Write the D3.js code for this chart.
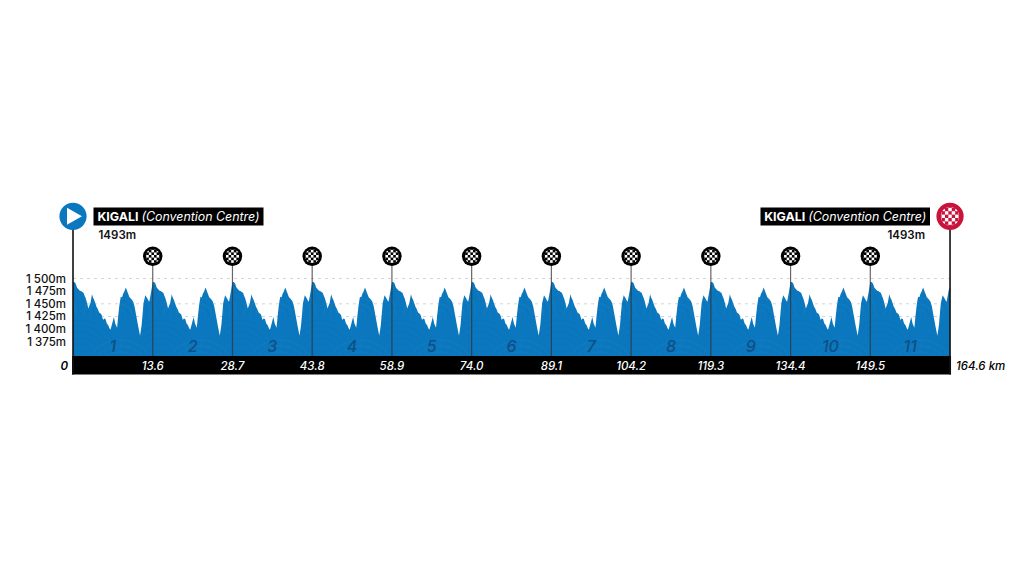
<!DOCTYPE html>
<html><head><meta charset="utf-8">
<script src="https://cdn.jsdelivr.net/npm/d3@7/dist/d3.min.js"></script>
<style>html,body{margin:0;background:#fff}svg{display:block}text{font-family:Inter,"Open Sans",sans-serif}</style>
</head><body><svg id="c" width="1024" height="576"></svg>
<script>
const kmMarks=[0,13.6,28.7,43.8,58.9,74.0,89.1,104.2,119.3,134.4,149.5,164.6];
const kmLabels=["0","13.6","28.7","43.8","58.9","74.0","89.1","104.2","119.3","134.4","149.5","164.6 km"];
const lapNumbers=[1,2,3,4,5,6,7,8,9,10,11];
const elevationTicks=[1500,1475,1450,1425,1400,1375];
const elevationTickLabels=["1 500m","1 475m","1 450m","1 425m","1 400m","1 375m"];
const dashedLevels=[1500,1450,1425];
const lapDistance=[0,.25,.5,.75,.95,1.3,1.6,1.8,2.0,2.2,2.4,2.65,2.9,3.1,3.3,3.6,3.8,4.0,4.2,4.45,4.7,4.95,5.2,5.4,5.7,5.9,6.15,6.4,6.65,6.9,7.1,7.4,7.75,8.0,8.35,8.55,8.75,8.9,9.05,9.3,9.5,9.75,10.0,10.2,10.45,10.7,10.9,11.15,11.4,11.65,11.9,12.35,12.7,13.0,13.35,13.55,13.7,14.05,14.3,14.45,14.85,15.1];
const lapElevation=[1493,1493,1490,1482,1480,1476,1475,1473,1472,1466,1461,1452,1441,1446,1451,1469,1462,1458,1452,1444,1440,1433,1431,1429,1418,1421,1420,1411,1408,1402,1399,1410,1424,1411,1403,1425,1444,1455,1464,1463,1470,1475,1482,1477,1470,1463,1461,1458,1454,1445,1431,1405,1387,1408,1451,1460,1467,1461,1456,1454,1477,1493];
const finishProfileElevation=1483;
const startFinishName=["KIGALI","(Convention Centre)"];
const startFinishAltitude="1493m";

const svg=d3.select("#c");
const x=d3.scaleLinear().domain(kmMarks).range(kmMarks.map((_,i)=>73+i*79.73));
const y=d3.scaleLinear().domain([1347,1500]).range([356,278.5]);
const profile=[];
lapNumbers.forEach((_,i)=>{
  const a=kmMarks[i],b=kmMarks[i+1];
  lapDistance.forEach((d,j)=>{
    if(i>0&&j===0)return;
    profile.push({km:a+d/15.1*(b-a),e:lapElevation[j]});
  });
});
profile[profile.length-1].e=finishProfileElevation;

const defs=svg.append("defs");
const pat=defs.append("pattern").attr("id","waves").attr("patternUnits","userSpaceOnUse").attr("width",80).attr("height",60).attr("y",316);
[6,12,18,24,30,36].forEach(r=>{
  pat.append("circle").attr("cx",40).attr("cy",60).attr("r",r).attr("fill","none").attr("stroke","#fff").attr("stroke-opacity",.035);
  pat.append("circle").attr("cx",0).attr("cy",40).attr("r",r).attr("fill","none").attr("stroke","#000").attr("stroke-opacity",.025);
  pat.append("circle").attr("cx",80).attr("cy",40).attr("r",r).attr("fill","none").attr("stroke","#000").attr("stroke-opacity",.025);
});
function checkerClip(id,r){defs.append("clipPath").attr("id",id).append("circle").attr("r",r);}
checkerClip("chkS",7);checkerClip("chkL",9.4);

svg.append("g").selectAll("line").data(dashedLevels).join("line")
 .attr("x1",x(0)).attr("x2",x(164.6)).attr("y1",d=>y(d)).attr("y2",d=>y(d))
 .attr("stroke","#d4d4d4").attr("stroke-width",1).attr("stroke-dasharray","3 4");

const area=d3.area().x(d=>x(d.km)).y0(y(1347)).y1(d=>y(d.e));
svg.append("path").datum(profile).attr("d",area).attr("fill","#0a77be");
svg.append("path").datum(profile).attr("d",area).attr("fill","url(#waves)");

const inner=kmMarks.slice(1,-1);
svg.append("g").selectAll("line").data(inner).join("line")
 .attr("x1",d=>x(d)).attr("x2",d=>x(d)).attr("y1",256).attr("y2",356)
 .attr("stroke","#333").attr("stroke-opacity",.75).attr("stroke-width",1.2);

svg.append("rect").attr("x",x(0)-1).attr("y",356).attr("width",x(164.6)-x(0)+2).attr("height",18.5).attr("fill","#000");
[0,164.6].forEach(k=>svg.append("line").attr("x1",x(k)).attr("x2",x(k)).attr("y1",216).attr("y2",374.5).attr("stroke","#111").attr("stroke-width",1.6));

svg.append("g").selectAll("text").data(lapNumbers).join("text")
 .attr("x",(d,i)=>(x(kmMarks[i])+x(kmMarks[i+1]))/2).attr("y",352)
 .attr("text-anchor","middle").attr("font-size",16).attr("font-style","italic").attr("font-weight",500).attr("fill","#0e4f85").text(d=>d);

svg.append("g").selectAll("text").data(kmMarks.slice(1,-1)).join("text")
 .attr("x",d=>x(d)).attr("y",369.5).attr("text-anchor","middle").attr("font-size",11.5).attr("font-style","italic").attr("font-weight",500).attr("fill","#fff")
 .text((d,i)=>kmLabels[i+1]);
svg.append("text").attr("x",68).attr("y",369.5).attr("text-anchor","end").attr("font-size",11.5).attr("font-style","italic").attr("font-weight",600).text(kmLabels[0]);
svg.append("text").attr("x",956).attr("y",369.5).attr("font-size",11.5).attr("font-style","italic").attr("font-weight",500).text(kmLabels[11]);

svg.append("g").selectAll("text").data(elevationTicks).join("text")
 .attr("x",66).attr("y",d=>y(d)+4).attr("text-anchor","end").attr("font-size",11.5).attr("font-weight",500).attr("fill","#111")
 .text((d,i)=>elevationTickLabels[i]);

function checker(g,clip,size,n){
  const cg=g.append("g").attr("clip-path",`url(#${clip})`);
  d3.range(n).forEach(i=>d3.range(n).forEach(j=>{
    if((i+j)%2===0)cg.append("rect").attr("x",(i-n/2)*size).attr("y",(j-n/2)*size).attr("width",size).attr("height",size).attr("fill","#fff");
  }));
}
inner.forEach(k=>{
  const g=svg.append("g").attr("transform",`translate(${x(k)},256.3)`);
  g.append("circle").attr("r",9.7).attr("fill","#000");
  checker(g,"chkS",2.6,7);
});
const s=svg.append("g").attr("transform",`translate(${x(0)},216.3)`);
s.append("circle").attr("r",13.6).attr("fill","#0a77be");
s.append("path").attr("d","M-6,-8.5L9,0L-6,8.5Z").attr("fill","#fff");
const f=svg.append("g").attr("transform",`translate(${x(164.6)},216.3)`);
f.append("circle").attr("r",13.6).attr("fill","#c8143c");
checker(f,"chkL",3.4,7);

function nameBox(x0,x1){
  svg.append("rect").attr("x",x0).attr("y",207.5).attr("width",x1-x0).attr("height",18).attr("fill","#000");
  const t=svg.append("text").attr("x",(x0+x1)/2).attr("y",220.9).attr("text-anchor","middle").attr("font-size",12.4).attr("fill","#fff");
  t.append("tspan").attr("font-weight",700).text(startFinishName[0]+" ");
  t.append("tspan").attr("font-style","italic").attr("font-weight",400).text(startFinishName[1]);
}
nameBox(93.5,263.5);nameBox(760.5,930);
svg.append("text").attr("x",98.5).attr("y",239).attr("font-size",11.5).attr("font-weight",600).attr("fill","#111").text(startFinishAltitude);
svg.append("text").attr("x",925).attr("y",239).attr("text-anchor","end").attr("font-size",11.5).attr("font-weight",600).attr("fill","#111").text(startFinishAltitude);
</script></body></html>
